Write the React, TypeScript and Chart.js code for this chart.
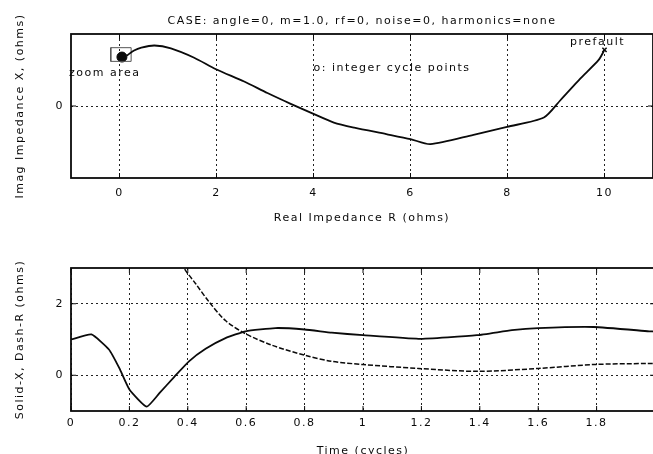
import React, { useEffect, useRef } from "react";
import { Chart, registerables } from "chart.js";

Chart.register(...registerables);

// ---------- Top plot: impedance trajectory ----------
const titleText = "CASE: angle=0, m=1.0, rf=0, noise=0, harmonics=none";
const impR = [0.15, 0.3, 0.45, 0.72, 1.06, 1.54, 1.99, 2.57, 3.05, 3.53, 4.0, 4.42, 4.84, 5.5, 6.0, 6.41, 7.3, 7.99, 8.75, 9.09, 9.5, 9.88, 10.0];
const impX = [0.7, 0.77, 0.81, 0.84, 0.8, 0.67, 0.51, 0.34, 0.18, 0.03, -0.11, -0.23, -0.3, -0.39, -0.46, -0.53, -0.4, -0.29, -0.16, 0.08, 0.38, 0.64, 0.78];
const zoomBoxR = [-0.18, 0.24, 0.24, -0.18, -0.18];
const zoomBoxX = [0.62, 0.62, 0.81, 0.81, 0.62];
const zoomPointR = [0.05];
const zoomPointX = [0.68];
const prefaultR = [10.0];
const prefaultX = [0.78];
const topXTicks = [0, 2, 4, 6, 8, 10];
const topYTicks = [0];

// ---------- Bottom plot: X and R versus time ----------
const timeX = [0, 0.07, 0.13, 0.166, 0.2, 0.259, 0.302, 0.353, 0.404, 0.461, 0.529, 0.598, 0.7, 0.8, 0.893, 1.0, 1.19, 1.39, 1.51, 1.6, 1.79, 1.98, 2.0];
const solidX = [1.0, 1.14, 0.72, 0.19, -0.4, -0.88, -0.51, -0.05, 0.39, 0.74, 1.04, 1.23, 1.32, 1.28, 1.19, 1.12, 1.02, 1.12, 1.26, 1.32, 1.35, 1.23, 1.22];
const timeR = [0.36, 0.387, 0.427, 0.473, 0.529, 0.598, 0.688, 0.8, 0.893, 1.0, 1.19, 1.39, 1.6, 1.79, 1.98, 2.0];
const dashR = [3.5, 3.0, 2.56, 2.05, 1.53, 1.16, 0.84, 0.56, 0.39, 0.3, 0.19, 0.11, 0.19, 0.3, 0.33, 0.33];
const bottomXTicks = [0, 0.2, 0.4, 0.6, 0.8, 1.0, 1.2, 1.4, 1.6, 1.8];
const bottomYTicks = [0, 2];

const FONT = "'DejaVu Sans', sans-serif";
const INK = "#0a0a0a";
const SPACING = "1.5px";

const pts = (xs: number[], ys: number[]) => xs.map((x, i) => ({ x, y: ys[i] }));

const framePlugin = {
  id: "frame",
  beforeLayout(chart: any) {
    chart.ctx.letterSpacing = SPACING;
  },
  beforeDraw(chart: any) {
    const ctx = chart.ctx;
    ctx.letterSpacing = SPACING;
    ctx.save();
    ctx.fillStyle = "#ffffff";
    ctx.fillRect(0, 0, chart.width, chart.height);
    ctx.restore();
  },
  afterDraw(chart: any, _args: any, opts: any) {
    const { ctx, chartArea: a } = chart;
    const xs = chart.scales.x;
    const ys = chart.scales.y;
    ctx.save();
    ctx.strokeStyle = INK;
    ctx.lineWidth = 1.8;
    ctx.setLineDash([]);
    ctx.strokeRect(a.left, a.top, a.right - a.left, a.bottom - a.top);
    ctx.lineWidth = 1;
    ctx.beginPath();
    xs.ticks.forEach((t: any) => {
      const px = xs.getPixelForValue(t.value);
      ctx.moveTo(px, a.top);
      ctx.lineTo(px, a.top + 5);
      ctx.moveTo(px, a.bottom);
      ctx.lineTo(px, a.bottom - 5);
    });
    ys.ticks.forEach((t: any) => {
      const py = ys.getPixelForValue(t.value);
      ctx.moveTo(a.left, py);
      ctx.lineTo(a.left + 5, py);
      ctx.moveTo(a.right, py);
      ctx.lineTo(a.right - 5, py);
    });
    ctx.stroke();
    const texts = (opts && opts.texts) || [];
    ctx.letterSpacing = SPACING;
    ctx.fillStyle = INK;
    ctx.font = `11px ${FONT}`;
    ctx.textAlign = "left";
    ctx.textBaseline = "middle";
    texts.forEach((t: any) => {
      ctx.fillText(t.text, xs.getPixelForValue(t.x), ys.getPixelForValue(t.y));
    });
    ctx.restore();
  },
};

const tickFont = { family: FONT, size: 11 };

function makeTop(canvas: HTMLCanvasElement) {
  return new Chart(canvas, {
    type: "scatter",
    data: {
      datasets: [
        {
          label: "trajectory",
          data: pts(impR, impX),
          showLine: true,
          borderColor: INK,
          borderWidth: 1.8,
          pointRadius: 0,
          tension: 0.25,
        },
        {
          label: "zoom box",
          data: pts(zoomBoxR, zoomBoxX),
          showLine: true,
          borderColor: "#555",
          borderWidth: 1,
          pointRadius: 0,
          tension: 0,
        },
        {
          label: "zoom point",
          data: pts(zoomPointR, zoomPointX),
          pointRadius: 5,
          pointBackgroundColor: INK,
          pointBorderColor: INK,
        },
        {
          label: "prefault",
          data: pts(prefaultR, prefaultX),
          pointStyle: "crossRot",
          pointRadius: 3,
          pointBorderColor: INK,
          pointBorderWidth: 1.5,
        },
      ],
    },
    options: {
      animation: false,
      responsive: false,
      devicePixelRatio: 1,
      layout: { padding: { left: 0, right: 7, top: 0, bottom: 0 } },
      plugins: {
        legend: { display: false },
        tooltip: { enabled: false },
        title: {
          display: true,
          text: titleText,
          fullSize: false,
          color: INK,
          font: { family: FONT, size: 11, weight: "normal" },
          padding: { top: 14.4, bottom: 6.4 },
        },
        frame: {
          texts: [
            { text: "zoom area", x: -1.04, y: 0.46 },
            { text: "o: integer cycle points", x: 4.0, y: 0.52 },
            { text: "prefault", x: 9.29, y: 0.89 },
          ],
        },
      } as any,
      scales: {
        x: {
          type: "linear",
          min: -1,
          max: 11,
          afterBuildTicks: (s: any) => {
            s.ticks = topXTicks.map((v) => ({ value: v }));
          },
          afterFit: (s: any) => {
            s.height = 57;
          },
          ticks: { color: INK, font: tickFont, padding: 8.5, maxRotation: 0, callback: (v: any) => String(v) },
          grid: { color: "#222", lineWidth: 1, drawTicks: false },
          border: { display: false, dash: [2, 3] },
          title: {
            display: true,
            text: "Real Impedance R (ohms)",
            color: INK,
            font: { family: FONT, size: 11 },
            padding: { top: 0, bottom: 9.8 },
          },
        },
        y: {
          type: "linear",
          min: -1,
          max: 1,
          afterBuildTicks: (s: any) => {
            s.ticks = topYTicks.map((v) => ({ value: v }));
          },
          afterFit: (s: any) => {
            s.width = 71;
          },
          ticks: { color: INK, font: tickFont, padding: 7, callback: (v: any) => String(v) },
          grid: { color: "#222", lineWidth: 1, drawTicks: false },
          border: { display: false, dash: [2, 3] },
          title: {
            display: true,
            text: "Imag Impedance X, (ohms)",
            color: INK,
            font: { family: FONT, size: 11 },
            padding: { top: 13.5, bottom: 0 },
          },
        },
      },
    },
    plugins: [framePlugin as any],
  });
}

function makeBottom(canvas: HTMLCanvasElement) {
  return new Chart(canvas, {
    type: "scatter",
    data: {
      datasets: [
        {
          label: "Solid-X",
          data: pts(timeX, solidX),
          showLine: true,
          borderColor: INK,
          borderWidth: 1.8,
          pointRadius: 0,
          tension: 0.15,
        },
        {
          label: "Dash-R",
          data: pts(timeR, dashR),
          showLine: true,
          borderColor: INK,
          borderWidth: 1.5,
          borderDash: [5, 2],
          pointRadius: 0,
          tension: 0.3,
        },
      ],
    },
    options: {
      animation: false,
      responsive: false,
      devicePixelRatio: 1,
      layout: { padding: { left: 0, right: 5, top: 33, bottom: 0 } },
      plugins: {
        legend: { display: false },
        tooltip: { enabled: false },
        frame: { texts: [] },
      } as any,
      scales: {
        x: {
          type: "linear",
          min: 0,
          max: 2,
          afterBuildTicks: (s: any) => {
            s.ticks = bottomXTicks.map((v) => ({ value: v }));
          },
          afterFit: (s: any) => {
            s.height = 64;
          },
          ticks: {
            color: INK,
            font: tickFont,
            padding: 5.5,
            maxRotation: 0,
            autoSkip: false,
            callback: (v: any) => String(Math.round(Number(v) * 10) / 10),
          },
          grid: { color: "#222", lineWidth: 1, drawTicks: false },
          border: { display: false, dash: [2, 3] },
          title: {
            display: true,
            text: "Time (cycles)",
            color: INK,
            font: { family: FONT, size: 11 },
            padding: { top: 0, bottom: 16.8 },
          },
        },
        y: {
          type: "linear",
          min: -1,
          max: 3,
          afterBuildTicks: (s: any) => {
            s.ticks = bottomYTicks.map((v) => ({ value: v }));
          },
          afterFit: (s: any) => {
            s.width = 71;
          },
          ticks: { color: INK, font: tickFont, padding: 7, callback: (v: any) => String(v) },
          grid: { color: "#222", lineWidth: 1, drawTicks: false },
          border: { display: false, dash: [2, 3] },
          title: {
            display: true,
            text: "Solid-X, Dash-R (ohms)",
            color: INK,
            font: { family: FONT, size: 11 },
            padding: { top: 13.5, bottom: 0 },
          },
        },
      },
    },
    plugins: [framePlugin as any],
  });
}

export default function App() {
  const topRef = useRef<HTMLCanvasElement | null>(null);
  const botRef = useRef<HTMLCanvasElement | null>(null);

  useEffect(() => {
    if (!topRef.current || !botRef.current) return;
    const c1 = makeTop(topRef.current);
    const c2 = makeBottom(botRef.current);
    return () => {
      c1.destroy();
      c2.destroy();
    };
  }, []);

  return (
    <div style={{ position: "fixed", left: 0, top: 0, width: 660, height: 475, background: "#fff", overflow: "hidden" }}>
      <canvas ref={topRef} width={660} height={235} style={{ position: "absolute", left: 0, top: 0, width: 660, height: 235 }} />
      <canvas ref={botRef} width={660} height={240} style={{ position: "absolute", left: 0, top: 235, width: 660, height: 240 }} />
    </div>
  );
}
